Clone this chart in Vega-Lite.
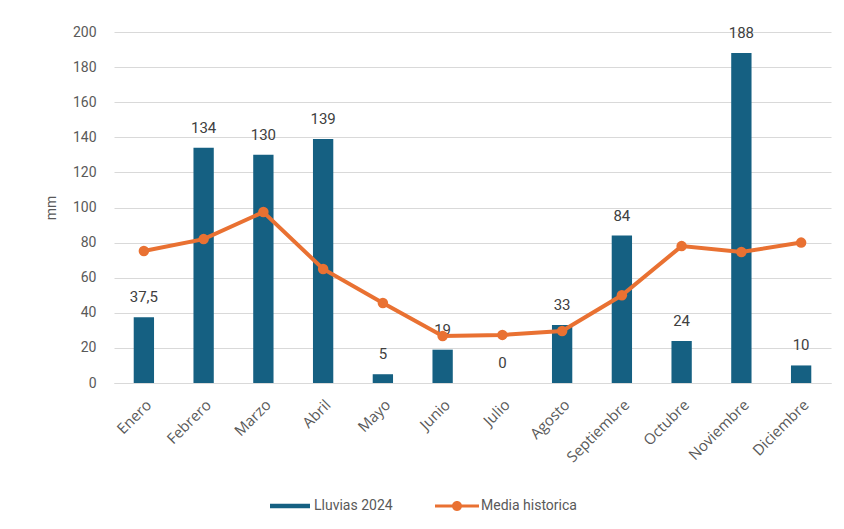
{
  "$schema": "https://vega.github.io/schema/vega-lite/v6.json",
  "width": 717,
  "height": 351,
  "autosize": "none",
  "padding": {"left": 114, "top": 32, "right": 13, "bottom": 146},
  "background": "white",
  "config": {
    "view": {"stroke": null},
    "font": "Roboto",
    "locale": {"number": {"decimal": ",", "thousands": ".", "grouping": [3], "currency": ["", " €"]}}
  },
  "data": {
    "values": [
      {"mes": "Enero", "serie": "Lluvias 2024", "valor": 37.5},
      {"mes": "Febrero", "serie": "Lluvias 2024", "valor": 134},
      {"mes": "Marzo", "serie": "Lluvias 2024", "valor": 130},
      {"mes": "Abril", "serie": "Lluvias 2024", "valor": 139},
      {"mes": "Mayo", "serie": "Lluvias 2024", "valor": 5},
      {"mes": "Junio", "serie": "Lluvias 2024", "valor": 19},
      {"mes": "Julio", "serie": "Lluvias 2024", "valor": 0},
      {"mes": "Agosto", "serie": "Lluvias 2024", "valor": 33},
      {"mes": "Septiembre", "serie": "Lluvias 2024", "valor": 84},
      {"mes": "Octubre", "serie": "Lluvias 2024", "valor": 24},
      {"mes": "Noviembre", "serie": "Lluvias 2024", "valor": 188},
      {"mes": "Diciembre", "serie": "Lluvias 2024", "valor": 10},
      {"mes": "Enero", "serie": "Media historica", "valor": 75.2},
      {"mes": "Febrero", "serie": "Media historica", "valor": 82},
      {"mes": "Marzo", "serie": "Media historica", "valor": 97.4},
      {"mes": "Abril", "serie": "Media historica", "valor": 65},
      {"mes": "Mayo", "serie": "Media historica", "valor": 45.6},
      {"mes": "Junio", "serie": "Media historica", "valor": 26.8},
      {"mes": "Julio", "serie": "Media historica", "valor": 27.4},
      {"mes": "Agosto", "serie": "Media historica", "valor": 29.6},
      {"mes": "Septiembre", "serie": "Media historica", "valor": 50},
      {"mes": "Octubre", "serie": "Media historica", "valor": 78},
      {"mes": "Noviembre", "serie": "Media historica", "valor": 74.6},
      {"mes": "Diciembre", "serie": "Media historica", "valor": 80}
    ]
  },
  "encoding": {
    "x": {
      "field": "mes", "type": "nominal", "sort": null,
      "scale": {"paddingInner": 0.66, "paddingOuter": 0.33},
      "axis": {
        "title": null, "labelAngle": -45, "labelFontSize": 15, "labelFont": "Open Sans", "labelColor": "#595959",
        "ticks": false, "domainColor": "#d9d9d9", "labelPadding": 14
      }
    },
    "y": {
      "field": "valor", "type": "quantitative",
      "scale": {"domain": [0, 200]},
      "axis": {
        "title": "mm", "titleFontSize": 14, "titleColor": "#595959", "titleFontWeight": "normal",
        "titlePadding": 14,
        "labelFontSize": 14, "labelColor": "#595959", "tickCount": 10, "ticks": false, "domain": false,
        "gridColor": "#d9d9d9", "labelPadding": 18
      }
    }
  },
  "layer": [
    {
      "transform": [{"filter": "datum.serie == 'Lluvias 2024'"}],
      "encoding": {
        "color": {
          "field": "serie", "type": "nominal",
          "scale": {"domain": ["Lluvias 2024"], "range": ["#156082"]},
          "legend": {
            "title": null, "orient": "none", "direction": "horizontal", "legendX": 156, "legendY": 454,
            "labelFontSize": 14, "labelColor": "#595959", "symbolSize": 1600, "symbolStrokeWidth": 0,
            "labelOffset": 4, "symbolType": "M-1,-0.11L1,-0.11L1,0.11L-1,0.11Z"
          }
        }
      },
      "layer": [
        {"mark": {"type": "bar"}},
        {
          "mark": {"type": "text", "baseline": "middle", "dy": -20, "fontSize": 15},
          "encoding": {"text": {"field": "valor", "type": "quantitative", "format": "~g"}, "color": {"value": "#404040"}}
        }
      ]
    },
    {
      "transform": [{"filter": "datum.serie == 'Media historica'"}],
      "encoding": {
        "color": {
          "field": "serie", "type": "nominal",
          "scale": {"domain": ["Media historica"], "range": ["#E97132"]},
          "legend": {
            "title": null, "orient": "none", "direction": "horizontal", "legendX": 323, "legendY": 454,
            "labelFontSize": 14, "labelColor": "#595959", "symbolSize": 1600, "symbolStrokeWidth": 0,
            "symbolFillColor": "#E97132",
            "labelOffset": 4, "symbolType": "M-1.1,-0.075H-0.2V0.075H-1.1Z M0.2,-0.075H1.1V0.075H0.2Z M-0.25,0A0.25,0.25 0 1,1 0.25,0A0.25,0.25 0 1,1 -0.25,0Z"
          }
        }
      },
      "layer": [
        {"mark": {"type": "line", "strokeWidth": 4}},
        {"mark": {"type": "point", "filled": true, "size": 110, "opacity": 1, "shape": "circle"}}
      ]
    }
  ],
  "resolve": {"scale": {"color": "independent"}, "legend": {"color": "independent"}}
}
